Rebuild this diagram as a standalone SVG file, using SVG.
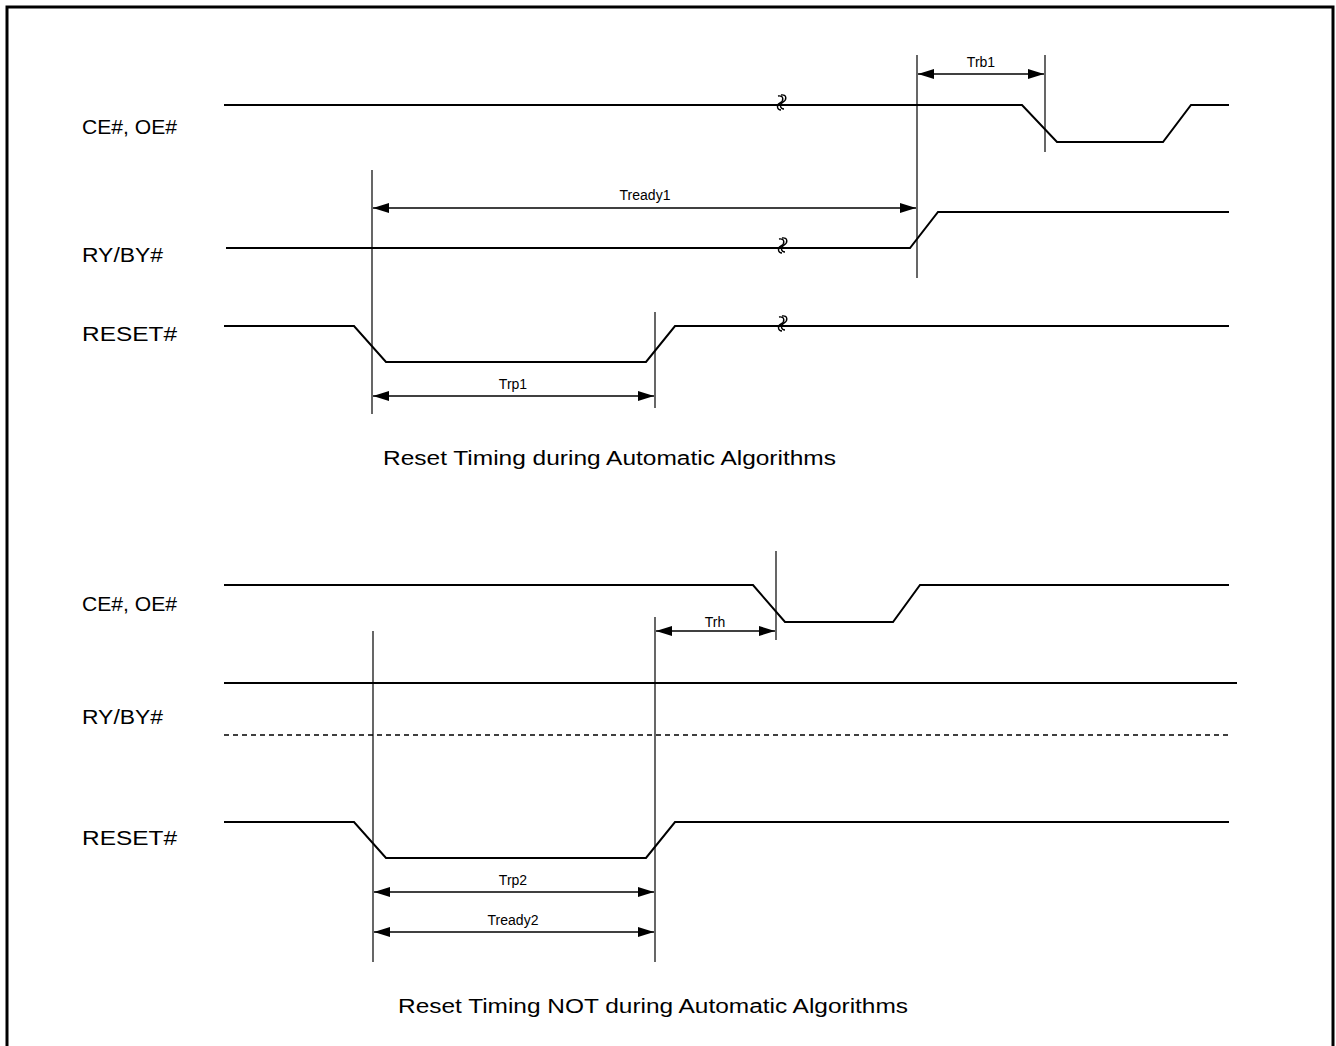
<svg xmlns="http://www.w3.org/2000/svg" width="1336" height="1046" viewBox="0 0 1336 1046">
<defs>
<style>
.sig{fill:none;stroke:#000;stroke-width:2}
.thin{fill:none;stroke:#000;stroke-width:1.2}
.dim{fill:none;stroke:#000;stroke-width:1.5}
.lbl{font-family:"Liberation Sans",Arial,sans-serif;font-size:20px;fill:#000}
.cap{font-family:"Liberation Sans",Arial,sans-serif;font-size:20px;fill:#000}
.sm{font-family:"Liberation Sans",Arial,sans-serif;font-size:14px;fill:#000;text-anchor:middle}
.brk{fill:none;stroke:#000;stroke-width:1.4}
</style>
<marker id="ah" viewBox="0 0 16 10" refX="16" refY="5" markerWidth="16" markerHeight="10" markerUnits="userSpaceOnUse" orient="auto-start-reverse">
<path d="M0,0 L16,5 L0,10 Z" fill="#000"/>
</marker>
<g id="brkSym">
<path class="brk" d="M-3,-7 C3,-8 3,-2 -1,0 C-5,2 -4,7 0,7"/>
<path class="brk" d="M0,-8 C6,-9 6,-3 2,-1 C-2,1 -1,6 3,6"/>
</g>
</defs>
<rect x="7" y="7" width="1326" height="1050" fill="#fff" stroke="#000" stroke-width="3"/>

<g id="labels">
<text class="lbl" x="82" y="134" textLength="95" lengthAdjust="spacingAndGlyphs">CE#, OE#</text>
<text class="lbl" x="82" y="262" textLength="81" lengthAdjust="spacingAndGlyphs">RY/BY#</text>
<text class="lbl" x="82" y="341" textLength="95" lengthAdjust="spacingAndGlyphs">RESET#</text>
<text class="cap" x="383" y="465" textLength="453" lengthAdjust="spacingAndGlyphs">Reset Timing during Automatic Algorithms</text>
<text class="lbl" x="82" y="611" textLength="95" lengthAdjust="spacingAndGlyphs">CE#, OE#</text>
<text class="lbl" x="82" y="724" textLength="81" lengthAdjust="spacingAndGlyphs">RY/BY#</text>
<text class="lbl" x="82" y="845" textLength="95" lengthAdjust="spacingAndGlyphs">RESET#</text>
<text class="cap" x="398" y="1013" textLength="510" lengthAdjust="spacingAndGlyphs">Reset Timing NOT during Automatic Algorithms</text>
</g>

<g id="signals-top">
<polyline id="ce-top" class="sig" points="224,105 1022,105 1057,142 1163,142 1191,105 1229,105"/>
<polyline id="ry-top" class="sig" points="226,248 910,248 938,212 1229,212"/>
<polyline id="reset-top" class="sig" points="224,326 354,326 386,362 646,362 675,326 1229,326"/>
<use href="#brkSym" x="781" y="103"/>
<use href="#brkSym" x="782" y="246"/>
<use href="#brkSym" x="782" y="324"/>
</g>

<g id="signals-bottom">
<polyline id="ce-bot" class="sig" points="224,585 753,585 785,622 893,622 920,585 1229,585"/>
<line id="ry-bot" class="sig" x1="224" y1="683" x2="1237" y2="683"/>
<line id="ry-bot-dash" x1="224" y1="735" x2="1232" y2="735" stroke="#000" stroke-width="1.5" stroke-dasharray="5,4"/>
<polyline id="reset-bot" class="sig" points="224,822 354,822 386,858 646,858 675,822 1229,822"/>
</g>

<g id="connectors">
<line class="thin" x1="917" y1="55" x2="917" y2="278"/>
<line class="thin" x1="1045" y1="55" x2="1045" y2="152"/>
<line class="thin" x1="372" y1="170" x2="372" y2="414"/>
<line class="thin" x1="655" y1="312" x2="655" y2="408"/>
<line class="dim" x1="918" y1="74" x2="1044" y2="74" marker-start="url(#ah)" marker-end="url(#ah)"/>
<line class="dim" x1="373" y1="208" x2="916" y2="208" marker-start="url(#ah)" marker-end="url(#ah)"/>
<line class="dim" x1="373" y1="396" x2="654" y2="396" marker-start="url(#ah)" marker-end="url(#ah)"/>

<line class="thin" x1="776" y1="551" x2="776" y2="640"/>
<line class="thin" x1="655" y1="617" x2="655" y2="962"/>
<line class="thin" x1="373" y1="631" x2="373" y2="962"/>
<line class="dim" x1="656" y1="631" x2="775" y2="631" marker-start="url(#ah)" marker-end="url(#ah)"/>
<line class="dim" x1="374" y1="892" x2="654" y2="892" marker-start="url(#ah)" marker-end="url(#ah)"/>
<line class="dim" x1="374" y1="932" x2="654" y2="932" marker-start="url(#ah)" marker-end="url(#ah)"/>
</g>

<g id="dim-labels">
<text class="sm" x="981" y="67">Trb1</text>
<text class="sm" x="645" y="200">Tready1</text>
<text class="sm" x="513" y="389">Trp1</text>
<text class="sm" x="715" y="627">Trh</text>
<text class="sm" x="513" y="885">Trp2</text>
<text class="sm" x="513" y="925">Tready2</text>
</g>
</svg>
